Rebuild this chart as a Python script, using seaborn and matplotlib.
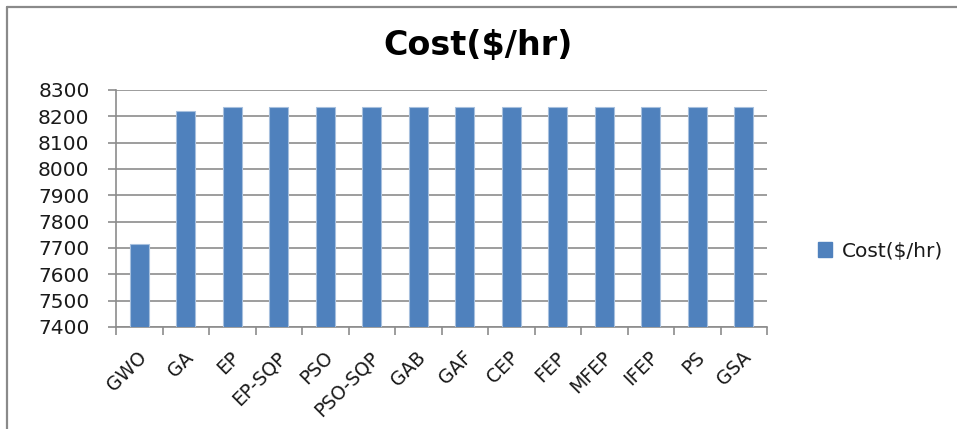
import matplotlib
matplotlib.use("Agg")
import matplotlib.pyplot as plt
from matplotlib.lines import Line2D
from matplotlib.patches import Patch
import matplotlib.transforms as mtransforms
import seaborn as sns
import numpy as np

methods = ["GWO", "GA", "EP", "EP-SQP", "PSO", "PSO-SQP", "GAB", "GAF",
           "CEP", "FEP", "MFEP", "IFEP", "PS", "GSA"]
costs = [7715.2, 8219.0, 8234.07, 8234.07, 8234.07, 8234.07, 8234.07, 8234.07,
         8234.07, 8234.07, 8234.07, 8234.07, 8234.07, 8234.07]
y_ticks = [7400, 7500, 7600, 7700, 7800, 7900, 8000, 8100, 8200, 8300]
series_name = "Cost($/hr)"

sns.set_theme(style="white")
plt.rcParams["font.family"] = ["DejaVu Sans"]

bar_color = "#4F81BD"
grid_color = "#8C8C8C"
text_color = "#1a1a1a"

fig = plt.figure(figsize=(9.57, 4.29), dpi=100)
ax = fig.add_axes([116 / 957, 1 - 327 / 429, 651 / 957, 237 / 429])

sns.barplot(x=methods, y=costs, color=bar_color, width=0.4, saturation=1,
            edgecolor="#A7C0DE", linewidth=0.8, ax=ax, zorder=3)

ax.set_ylim(y_ticks[0], y_ticks[-1])
ax.set_yticks(y_ticks)
ax.set_yticklabels([str(t) for t in y_ticks], fontsize=14.5, color=text_color)
ax.set_xlim(-0.5, len(methods) - 0.5)
ax.set_xlabel("")
ax.set_ylabel("")

ax.yaxis.grid(True, color=grid_color, linewidth=1.2, zorder=0)
ax.xaxis.grid(False)
for side in ["top", "right"]:
    ax.spines[side].set_visible(False)
for side in ["left", "bottom"]:
    ax.spines[side].set_color(grid_color)
    ax.spines[side].set_linewidth(1.2)

ax.tick_params(axis="y", which="major", left=True, length=6, width=1.2,
               color=grid_color, pad=13)
# category separators as minor ticks on the x axis
ax.set_xticks(np.arange(-0.5, len(methods), 1.0), minor=True)
ax.tick_params(axis="x", which="minor", bottom=True, length=6, width=1.2,
               color=grid_color)
ax.tick_params(axis="x", which="major", bottom=False, length=0, pad=15)
ax.set_xticks(range(len(methods)))
ax.set_xticklabels(methods, fontsize=13.5, rotation=45, ha="right", va="top",
                   rotation_mode="anchor", color=text_color)
shift = mtransforms.ScaledTranslation(-2 / 100, 0, fig.dpi_scale_trans)
for lbl in ax.get_xticklabels():
    lbl.set_transform(lbl.get_transform() + shift)

fig.text(0.5, 1 - 46 / 429, "Cost($/hr)", ha="center", va="center",
         fontsize=24, fontweight="bold", color="black")

handle = Patch(facecolor=bar_color, edgecolor=bar_color)
fig.legend([handle], [series_name], loc="center left",
           bbox_to_anchor=(800 / 957, 1 - 251 / 429), frameon=False,
           fontsize=14.5, handlelength=0.7, handleheight=0.7, handletextpad=0.5,
           labelcolor=text_color)

# outer chart frame (top and left edges visible)
fig.add_artist(Line2D([7 / 957, 1.0], [1 - 7 / 429, 1 - 7 / 429],
                      transform=fig.transFigure, color="#8A8A8A", linewidth=1.6))
fig.add_artist(Line2D([7 / 957, 7 / 957], [0.0, 1 - 7 / 429],
                      transform=fig.transFigure, color="#8A8A8A", linewidth=1.6))

fig.savefig("out.png", dpi=100, facecolor="white")
